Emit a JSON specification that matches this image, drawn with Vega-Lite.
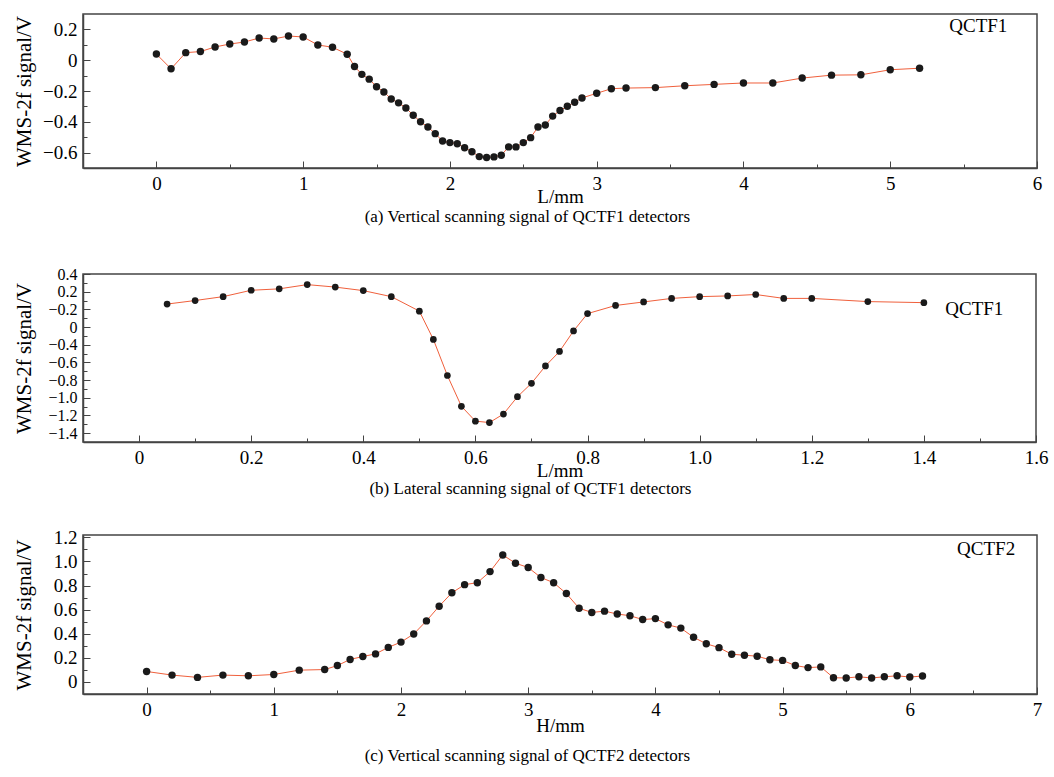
{
  "$schema": "https://vega.github.io/schema/vega-lite/v6.json",
  "background": "white",
  "padding": {"top": 13, "left": 12, "right": 10, "bottom": 5},
  "spacing": 39,
  "datasets": {
    "a": [
      {"x": 0, "y": 0.04}, {"x": 0.1, "y": -0.056}, {"x": 0.2, "y": 0.049}, {"x": 0.3, "y": 0.056},
      {"x": 0.4, "y": 0.086}, {"x": 0.5, "y": 0.105}, {"x": 0.6, "y": 0.118}, {"x": 0.7, "y": 0.144},
      {"x": 0.8, "y": 0.138}, {"x": 0.9, "y": 0.157}, {"x": 1.0, "y": 0.151}, {"x": 1.1, "y": 0.099},
      {"x": 1.2, "y": 0.084}, {"x": 1.3, "y": 0.039}, {"x": 1.35, "y": -0.041}, {"x": 1.4, "y": -0.092},
      {"x": 1.45, "y": -0.123}, {"x": 1.5, "y": -0.172}, {"x": 1.55, "y": -0.206}, {"x": 1.6, "y": -0.252},
      {"x": 1.65, "y": -0.277}, {"x": 1.7, "y": -0.31}, {"x": 1.75, "y": -0.357}, {"x": 1.8, "y": -0.4},
      {"x": 1.85, "y": -0.434}, {"x": 1.9, "y": -0.477}, {"x": 1.95, "y": -0.525}, {"x": 2.0, "y": -0.535},
      {"x": 2.05, "y": -0.542}, {"x": 2.1, "y": -0.568}, {"x": 2.15, "y": -0.594}, {"x": 2.2, "y": -0.626},
      {"x": 2.25, "y": -0.632}, {"x": 2.3, "y": -0.628}, {"x": 2.35, "y": -0.617}, {"x": 2.4, "y": -0.563},
      {"x": 2.45, "y": -0.563}, {"x": 2.5, "y": -0.535}, {"x": 2.55, "y": -0.503}, {"x": 2.6, "y": -0.434},
      {"x": 2.65, "y": -0.421}, {"x": 2.7, "y": -0.363}, {"x": 2.75, "y": -0.327}, {"x": 2.8, "y": -0.299},
      {"x": 2.85, "y": -0.273}, {"x": 2.9, "y": -0.245}, {"x": 3.0, "y": -0.215}, {"x": 3.1, "y": -0.185},
      {"x": 3.2, "y": -0.181}, {"x": 3.4, "y": -0.178}, {"x": 3.6, "y": -0.166}, {"x": 3.8, "y": -0.157},
      {"x": 4.0, "y": -0.148}, {"x": 4.2, "y": -0.148}, {"x": 4.4, "y": -0.116}, {"x": 4.6, "y": -0.097},
      {"x": 4.8, "y": -0.095}, {"x": 5.0, "y": -0.062}, {"x": 5.2, "y": -0.052}
    ],
    "b": [
      {"x": 0.05, "y": 0.06}, {"x": 0.1, "y": 0.1}, {"x": 0.15, "y": 0.144}, {"x": 0.2, "y": 0.216},
      {"x": 0.25, "y": 0.232}, {"x": 0.3, "y": 0.28}, {"x": 0.35, "y": 0.252}, {"x": 0.4, "y": 0.212},
      {"x": 0.45, "y": 0.144}, {"x": 0.5, "y": -0.02}, {"x": 0.525, "y": -0.34}, {"x": 0.55, "y": -0.748},
      {"x": 0.575, "y": -1.096}, {"x": 0.6, "y": -1.264}, {"x": 0.625, "y": -1.28}, {"x": 0.65, "y": -1.184},
      {"x": 0.675, "y": -0.988}, {"x": 0.7, "y": -0.836}, {"x": 0.725, "y": -0.64}, {"x": 0.75, "y": -0.476},
      {"x": 0.775, "y": -0.244}, {"x": 0.8, "y": -0.048}, {"x": 0.85, "y": 0.044}, {"x": 0.9, "y": 0.084},
      {"x": 0.95, "y": 0.124}, {"x": 1.0, "y": 0.144}, {"x": 1.05, "y": 0.152}, {"x": 1.1, "y": 0.168},
      {"x": 1.15, "y": 0.124}, {"x": 1.2, "y": 0.124}, {"x": 1.3, "y": 0.088}, {"x": 1.4, "y": 0.076}
    ],
    "c": [
      {"x": 0, "y": 0.087}, {"x": 0.2, "y": 0.057}, {"x": 0.4, "y": 0.038}, {"x": 0.6, "y": 0.057},
      {"x": 0.8, "y": 0.051}, {"x": 1.0, "y": 0.062}, {"x": 1.2, "y": 0.098}, {"x": 1.4, "y": 0.103},
      {"x": 1.5, "y": 0.136}, {"x": 1.6, "y": 0.187}, {"x": 1.7, "y": 0.211}, {"x": 1.8, "y": 0.233},
      {"x": 1.9, "y": 0.287}, {"x": 2.0, "y": 0.331}, {"x": 2.1, "y": 0.398}, {"x": 2.2, "y": 0.507},
      {"x": 2.3, "y": 0.629}, {"x": 2.4, "y": 0.74}, {"x": 2.5, "y": 0.808}, {"x": 2.6, "y": 0.824},
      {"x": 2.7, "y": 0.916}, {"x": 2.8, "y": 1.054}, {"x": 2.9, "y": 0.986}, {"x": 3.0, "y": 0.95},
      {"x": 3.1, "y": 0.867}, {"x": 3.2, "y": 0.824}, {"x": 3.3, "y": 0.734}, {"x": 3.4, "y": 0.612},
      {"x": 3.5, "y": 0.577}, {"x": 3.6, "y": 0.588}, {"x": 3.7, "y": 0.564}, {"x": 3.8, "y": 0.55},
      {"x": 3.9, "y": 0.518}, {"x": 4.0, "y": 0.526}, {"x": 4.1, "y": 0.474}, {"x": 4.2, "y": 0.447},
      {"x": 4.3, "y": 0.371}, {"x": 4.4, "y": 0.317}, {"x": 4.5, "y": 0.285}, {"x": 4.6, "y": 0.23},
      {"x": 4.7, "y": 0.222}, {"x": 4.8, "y": 0.214}, {"x": 4.9, "y": 0.184}, {"x": 5.0, "y": 0.179},
      {"x": 5.1, "y": 0.136}, {"x": 5.2, "y": 0.119}, {"x": 5.3, "y": 0.125}, {"x": 5.4, "y": 0.035},
      {"x": 5.5, "y": 0.033}, {"x": 5.6, "y": 0.043}, {"x": 5.7, "y": 0.033}, {"x": 5.8, "y": 0.043},
      {"x": 5.9, "y": 0.051}, {"x": 6.0, "y": 0.041}, {"x": 6.1, "y": 0.049}
    ],
    "one": [{"k": 1}]
  },
  "vconcat": [
    {
      "width": 954,
      "height": 154,
      "title": {"text": "(a) Vertical scanning signal of QCTF1 detectors", "orient": "bottom", "frame": "bounds", "offset": 3},
      "resolve": {"axis": {"x": "independent", "y": "independent"}},
      "layer": [
        {
          "data": {"name": "a"},
          "encoding": {
            "x": {
              "field": "x", "type": "quantitative",
              "scale": {"domain": [-0.5, 6], "nice": false, "zero": false},
              "axis": {
                "title": "L/mm",
                "values": [0, 0.5, 1, 1.5, 2, 2.5, 3, 3.5, 4, 4.5, 5, 5.5, 6],
                "tickSize": {"condition": {"test": "datum.value % 1 == 0", "value": -7}, "value": -4},
                "labelExpr": "datum.value % 1 == 0 ? format(datum.value, 'd') : ''"
              }
            },
            "y": {
              "field": "y", "type": "quantitative",
              "scale": {"domain": [-0.7, 0.3], "nice": false, "zero": false},
              "axis": {
                "title": "WMS-2f signal/V",
                "minExtent": 45, "maxExtent": 45,
                "values": [-0.6, -0.5, -0.4, -0.3, -0.2, -0.1, 0, 0.1, 0.2],
                "tickSize": {"condition": {"test": "round(abs(datum.value) * 10) % 2 == 0", "value": -7}, "value": -4},
                "labelExpr": "round(abs(datum.value) * 10) % 2 == 0 ? (datum.value == 0 ? '0' : format(datum.value, '.1f')) : ''"
              }
            }
          },
          "layer": [
            {"mark": {"type": "line", "color": "#f0603c", "strokeWidth": 1}},
            {"mark": {"type": "point", "filled": true, "color": "#1a1a1a", "opacity": 1, "size": 55}}
          ]
        },
        {
          "data": {"name": "one"},
          "mark": {"type": "text", "fontSize": 19, "color": "#000"},
          "encoding": {
            "x": {"datum": 5.6, "type": "quantitative", "axis": null},
            "y": {"datum": 0.22, "type": "quantitative", "axis": null},
            "text": {"value": "QCTF1"}
          }
        }
      ]
    },
    {
      "spacing": 29,
      "vconcat": [
        {
          "width": 953,
          "height": 168,
          "title": {"text": "(b) Lateral scanning signal of QCTF1 detectors", "orient": "bottom", "frame": "bounds", "offset": 1},
          "resolve": {"axis": {"x": "independent", "y": "independent"}},
          "layer": [
            {
              "data": {"name": "b"},
              "encoding": {
                "x": {
                  "field": "x", "type": "quantitative",
                  "scale": {"domain": [-0.1, 1.6], "nice": false, "zero": false},
                  "axis": {
                    "title": "L/mm",
                    "titlePadding": -9,
                    "values": [0, 0.1, 0.2, 0.3, 0.4, 0.5, 0.6, 0.7, 0.8, 0.9, 1.0, 1.1, 1.2, 1.3, 1.4, 1.5, 1.6],
                    "tickSize": {"condition": {"test": "round(datum.value * 10) % 2 == 0", "value": -7}, "value": -4},
                    "labelExpr": "round(datum.value * 10) % 2 == 0 ? (datum.value == 0 ? '0' : format(datum.value, '.1f')) : ''"
                  }
                },
                "y": {
                  "field": "y", "type": "quantitative",
                  "scale": {"domain": [-1.5, 0.4], "nice": false, "zero": false},
                  "axis": {
                    "title": "WMS-2f signal/V",
                    "minExtent": 45, "maxExtent": 45,
                    "labelFontSize": 16,
                    "values": [-1.4, -1.3, -1.2, -1.1, -1.0, -0.9, -0.8, -0.7, -0.6, -0.5, -0.4, -0.3, -0.2, -0.1, 0, 0.1, 0.2, 0.3, 0.4],
                    "tickSize": {"condition": {"test": "round(abs(datum.value) * 10) % 2 == 0", "value": -7}, "value": -4},
                    "labelExpr": "round(abs(datum.value) * 10) % 2 == 0 ? (abs(datum.value) < 1e-9 ? '−0.2' : (abs(datum.value + 0.2) < 1e-9 ? '0' : format(datum.value, '.1f'))) : ''"
                  }
                }
              },
              "layer": [
                {"mark": {"type": "line", "color": "#f0603c", "strokeWidth": 1}},
                {"mark": {"type": "point", "filled": true, "color": "#1a1a1a", "opacity": 1, "size": 45}}
              ]
            },
            {
              "data": {"name": "one"},
              "mark": {"type": "text", "fontSize": 19, "color": "#000"},
              "encoding": {
                "x": {"datum": 1.49, "type": "quantitative", "axis": null},
                "y": {"datum": 0.0, "type": "quantitative", "axis": null},
                "text": {"value": "QCTF1"}
              }
            }
          ]
        },
        {
          "width": 954,
          "height": 159,
          "title": {"text": "(c) Vertical scanning signal of QCTF2 detectors", "orient": "bottom", "frame": "bounds", "offset": 13},
          "resolve": {"axis": {"x": "independent", "y": "independent"}},
          "layer": [
            {
              "data": {"name": "c"},
              "encoding": {
                "x": {
                  "field": "x", "type": "quantitative",
                  "scale": {"domain": [-0.5, 7], "nice": false, "zero": false},
                  "axis": {
                    "title": "H/mm",
                    "titlePadding": -6,
                    "values": [0, 0.5, 1, 1.5, 2, 2.5, 3, 3.5, 4, 4.5, 5, 5.5, 6, 6.5, 7],
                    "tickSize": {"condition": {"test": "datum.value % 1 == 0", "value": -7}, "value": -4},
                    "labelExpr": "datum.value % 1 == 0 ? format(datum.value, 'd') : ''"
                  }
                },
                "y": {
                  "field": "y", "type": "quantitative",
                  "scale": {"domain": [-0.1, 1.22], "nice": false, "zero": false},
                  "axis": {
                    "title": "WMS-2f signal/V",
                    "minExtent": 45, "maxExtent": 45,
                    "values": [0, 0.1, 0.2, 0.3, 0.4, 0.5, 0.6, 0.7, 0.8, 0.9, 1.0, 1.1, 1.2],
                    "tickSize": {"condition": {"test": "round(datum.value * 10) % 2 == 0", "value": -7}, "value": -4},
                    "labelExpr": "round(datum.value * 10) % 2 == 0 ? (datum.value == 0 ? '0' : format(datum.value, '.1f')) : ''"
                  }
                }
              },
              "layer": [
                {"mark": {"type": "line", "color": "#f0603c", "strokeWidth": 1}},
                {"mark": {"type": "point", "filled": true, "color": "#1a1a1a", "opacity": 1, "size": 55}}
              ]
            },
            {
              "data": {"name": "one"},
              "mark": {"type": "text", "fontSize": 19, "color": "#000"},
              "encoding": {
                "x": {"datum": 6.6, "type": "quantitative", "axis": null},
                "y": {"datum": 1.1, "type": "quantitative", "axis": null},
                "text": {"value": "QCTF2"}
              }
            }
          ]
        }
      ]
    }
  ],
  "config": {
    "font": "Liberation Serif",
    "view": {"stroke": "#444", "strokeWidth": 1.5},
    "axis": {
      "grid": false,
      "domainColor": "#444",
      "domainWidth": 1.5,
      "tickColor": "#444",
      "tickWidth": 1,
      "labelColor": "#000",
      "titleColor": "#000",
      "labelFont": "Liberation Serif",
      "titleFont": "Liberation Serif",
      "labelFontSize": 19,
      "titleFontSize": 19,
      "titleFontWeight": "normal",
      "labelPadding": 13,
      "titlePadding": -9,
      "labelOverlap": false,
      "labelFlush": false
    },
    "axisX": {"titleFont": "Liberation Serif", "titleFontWeight": "normal", "titleFontSize": 19},
    "axisY": {"titleFontSize": 21, "titlePadding": 4, "titleFontWeight": "normal"},
    "title": {"font": "Liberation Serif", "fontWeight": "normal", "fontSize": 17, "color": "#000"}
  }
}
